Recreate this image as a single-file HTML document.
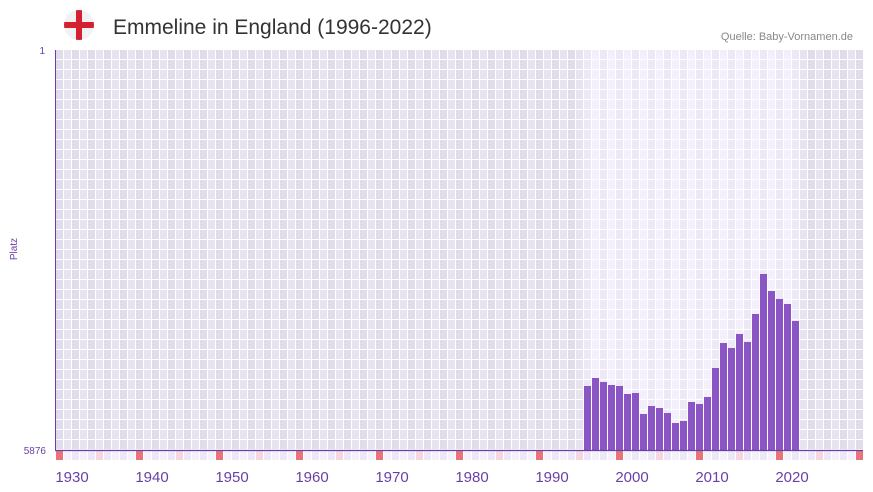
<!DOCTYPE html>
<html><head><meta charset="utf-8"><style>
body{margin:0;background:#fff;}
svg{display:block;font-family:"Liberation Sans",sans-serif;}
</style></head><body>
<svg width="873" height="492" viewBox="0 0 873 492" xmlns="http://www.w3.org/2000/svg">
<defs>
<pattern id="g" x="56" y="50" width="16" height="10" patternUnits="userSpaceOnUse">
<rect width="16" height="10" fill="#fff"/>
<rect x="0" y="0" width="7" height="9" fill="#e1dcec"/>
<rect x="8" y="0" width="7" height="9" fill="#e7e3ef"/>
</pattern>
<pattern id="h" x="56" y="50" width="16" height="10" patternUnits="userSpaceOnUse">
<rect width="16" height="10" fill="#fff"/>
<rect x="0" y="0" width="7" height="9" fill="#ece8f7"/>
<rect x="8" y="0" width="7" height="9" fill="#f3f0fb"/>
</pattern>
<pattern id="s" x="56" y="451" width="16" height="9" patternUnits="userSpaceOnUse">
<rect width="16" height="9" fill="#fff"/>
<rect x="0" y="0" width="7" height="9" fill="#ece8f7"/>
<rect x="8" y="0" width="7" height="9" fill="#f4f1fb"/>
</pattern>
<clipPath id="fc"><circle cx="79" cy="25" r="15"/></clipPath>
</defs>
<circle cx="79" cy="25" r="15" fill="#f2f2f2"/>
<g clip-path="url(#fc)"><rect x="76" y="10" width="6" height="30" fill="#d42030"/><rect x="64" y="22" width="30" height="6" fill="#d42030"/></g>
<text x="113" y="34" font-size="21" fill="#333">Emmeline in England (1996-2022)</text>
<text x="853" y="40" font-size="11" fill="#888" text-anchor="end">Quelle: Baby-Vornamen.de</text>
<rect x="56" y="50" width="807" height="400" fill="url(#g)"/>
<rect x="584" y="50" width="216" height="400" fill="url(#h)"/>
<rect x="56" y="451" width="807" height="9" fill="url(#s)"/>
<g fill="#e8737a">
<rect x="56" y="451" width="7" height="9"/><rect x="136" y="451" width="7" height="9"/><rect x="216" y="451" width="7" height="9"/><rect x="296" y="451" width="7" height="9"/><rect x="376" y="451" width="7" height="9"/><rect x="456" y="451" width="7" height="9"/><rect x="536" y="451" width="7" height="9"/><rect x="616" y="451" width="7" height="9"/><rect x="696" y="451" width="7" height="9"/><rect x="776" y="451" width="7" height="9"/><rect x="856" y="451" width="7" height="9"/>
</g>
<g fill="#f5d7df">
<rect x="96" y="451" width="7" height="9"/><rect x="176" y="451" width="7" height="9"/><rect x="256" y="451" width="7" height="9"/><rect x="336" y="451" width="7" height="9"/><rect x="416" y="451" width="7" height="9"/><rect x="496" y="451" width="7" height="9"/><rect x="576" y="451" width="7" height="9"/><rect x="656" y="451" width="7" height="9"/><rect x="736" y="451" width="7" height="9"/><rect x="816" y="451" width="7" height="9"/>
</g>
<g fill="#8b55c6">
<rect x="584" y="386" width="7" height="64"/>
<rect x="592" y="378" width="7" height="72"/>
<rect x="600" y="382" width="7" height="68"/>
<rect x="608" y="385" width="7" height="65"/>
<rect x="616" y="386" width="7" height="64"/>
<rect x="624" y="394" width="7" height="56"/>
<rect x="632" y="393" width="7" height="57"/>
<rect x="640" y="414" width="7" height="36"/>
<rect x="648" y="406" width="7" height="44"/>
<rect x="656" y="408" width="7" height="42"/>
<rect x="664" y="413" width="7" height="37"/>
<rect x="672" y="423" width="7" height="27"/>
<rect x="680" y="421" width="7" height="29"/>
<rect x="688" y="402" width="7" height="48"/>
<rect x="696" y="404" width="7" height="46"/>
<rect x="704" y="397" width="7" height="53"/>
<rect x="712" y="368" width="7" height="82"/>
<rect x="720" y="343" width="7" height="107"/>
<rect x="728" y="348" width="7" height="102"/>
<rect x="736" y="334" width="7" height="116"/>
<rect x="744" y="342" width="7" height="108"/>
<rect x="752" y="314" width="7" height="136"/>
<rect x="760" y="274" width="7" height="176"/>
<rect x="768" y="291" width="7" height="159"/>
<rect x="776" y="299" width="7" height="151"/>
<rect x="784" y="304" width="7" height="146"/>
<rect x="792" y="321" width="7" height="129"/>
</g>
<line x1="55.5" y1="50" x2="55.5" y2="451" stroke="#6a3fa8" stroke-width="1"/>
<line x1="55" y1="450.5" x2="863" y2="450.5" stroke="#6a3fa8" stroke-width="1.2"/>
<g fill="#6a3fa8" font-size="10">
<text x="45" y="54" text-anchor="end">1</text>
<text x="46" y="454" text-anchor="end">5876</text>
<text transform="translate(17,249) rotate(-90)" text-anchor="middle">Platz</text>
</g>
<g fill="#6a3fa8" font-size="15" text-anchor="middle">
<text x="72" y="482">1930</text><text x="152" y="482">1940</text><text x="232" y="482">1950</text><text x="312" y="482">1960</text><text x="392" y="482">1970</text><text x="472" y="482">1980</text><text x="552" y="482">1990</text><text x="632" y="482">2000</text><text x="712" y="482">2010</text><text x="792" y="482">2020</text>
</g>
</svg>
</body></html>
